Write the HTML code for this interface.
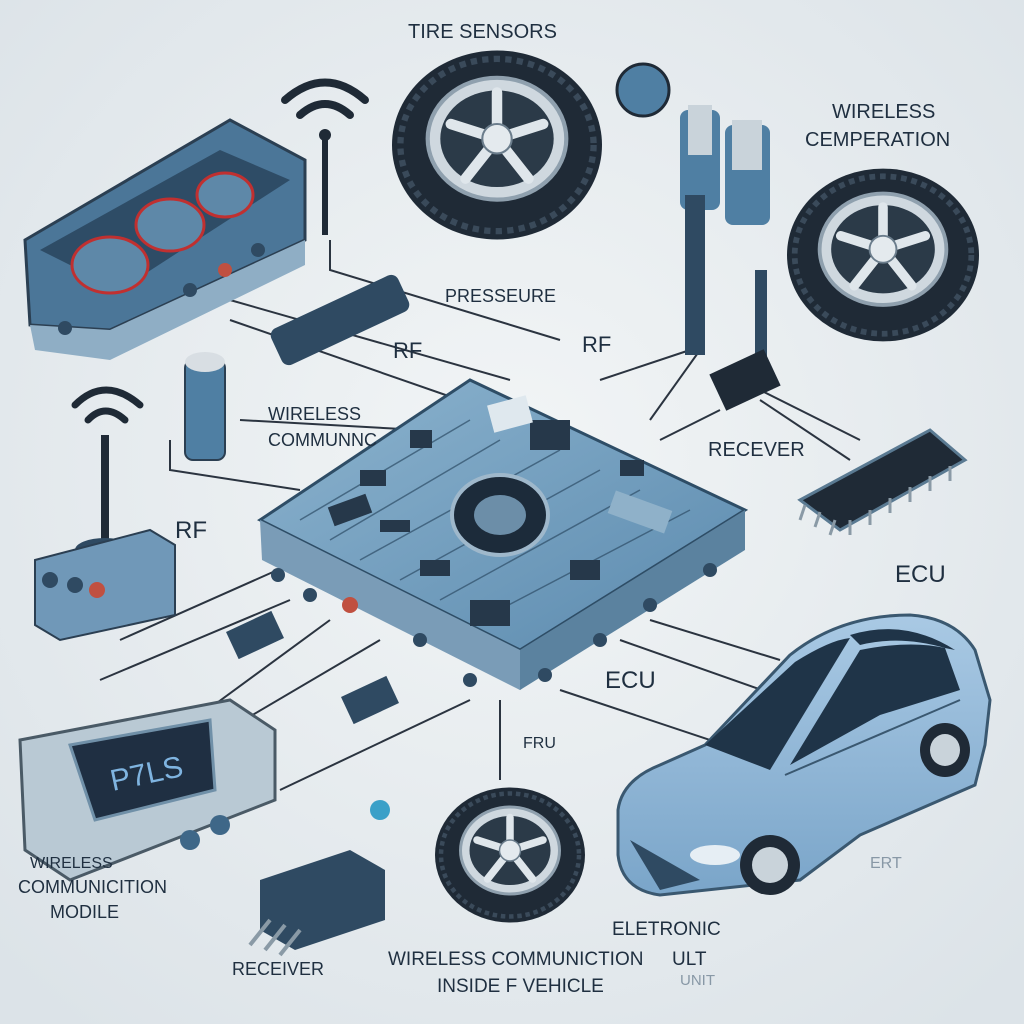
<!DOCTYPE html>
<html><head><meta charset="utf-8"><style>
html,body{margin:0;padding:0;width:1024px;height:1024px;overflow:hidden;background:#e8edf0;}
svg{display:block}
text{font-family:"Liberation Sans",sans-serif;fill:#1f2f40}
</style></head><body>
<svg width="1024" height="1024" viewBox="0 0 1024 1024" xmlns="http://www.w3.org/2000/svg">
<defs>
<radialGradient id="bg" cx="50%" cy="45%" r="70%"><stop offset="0" stop-color="#f2f5f6"/><stop offset="1" stop-color="#dce3e8"/></radialGradient>
<linearGradient id="board" x1="0" y1="0" x2="1" y2="1"><stop offset="0" stop-color="#8db4cf"/><stop offset="1" stop-color="#5b8aae"/></linearGradient>
<linearGradient id="car" x1="0" y1="0" x2="0" y2="1"><stop offset="0" stop-color="#a9c9e4"/><stop offset="1" stop-color="#7aa5c9"/></linearGradient>
<g id="tire">
<ellipse cx="0" cy="0" rx="100" ry="90" fill="#1f2a36"/>
<ellipse cx="0" cy="0" rx="92" ry="82" fill="none" stroke="#3a4a5a" stroke-width="6" stroke-dasharray="6 5"/>
<ellipse cx="0" cy="-6" rx="66" ry="58" fill="#cfd8df" stroke="#8fa0ae" stroke-width="4"/>
<ellipse cx="0" cy="-6" rx="54" ry="46" fill="#2b3a48"/>
<g stroke="#dfe6eb" stroke-width="10" stroke-linecap="round">
<line x1="0" y1="-6" x2="0" y2="-50"/><line x1="0" y1="-6" x2="44" y2="-20"/><line x1="0" y1="-6" x2="30" y2="32"/><line x1="0" y1="-6" x2="-30" y2="32"/><line x1="0" y1="-6" x2="-44" y2="-20"/>
</g>
<circle cx="0" cy="-6" r="14" fill="#e4eaee" stroke="#6b7d8c" stroke-width="2"/>
</g>
</defs>
<rect width="1024" height="1024" fill="url(#bg)"/>

<g stroke="#2b3440" stroke-width="2" fill="none">
<path d="M330 240 L330 270 L560 340"/><path d="M230 300 L510 380"/><path d="M230 320 L460 400"/>
<path d="M170 440 L170 470 L300 490"/><path d="M240 420 L420 430"/>
<path d="M690 350 L600 380"/><path d="M700 350 L650 420"/>
<path d="M760 390 L860 440"/><path d="M760 400 L850 460"/><path d="M720 410 L660 440"/>
<path d="M100 680 L290 600"/><path d="M180 730 L330 620"/><path d="M210 740 L380 640"/><path d="M280 790 L470 700"/>
<path d="M500 700 L500 780"/><path d="M560 690 L770 760"/><path d="M620 640 L790 700"/><path d="M650 620 L780 660"/>
<path d="M120 640 L300 560"/>
</g>

<!-- central board -->
<polygon points="260,520 470,380 745,510 520,690" fill="#3e6788"/>
<polygon points="260,520 470,380 745,510 520,650" fill="url(#board)" stroke="#2e4d66" stroke-width="3"/>
<polygon points="260,520 520,650 520,690 262,560" fill="#7a9cb7"/>
<polygon points="520,650 745,510 745,550 520,690" fill="#5b829f"/>
<g stroke="#2e4d66" stroke-width="1.5" fill="none" opacity="0.7">
<path d="M300 520 L470 420 M330 540 L500 440 M360 560 L560 450 M400 580 L600 470 M440 600 L640 490 M480 620 L690 510"/>
</g>
<ellipse cx="500" cy="515" rx="48" ry="40" fill="#1c2b3a" stroke="#9fb8cb" stroke-width="4"/>
<ellipse cx="500" cy="515" rx="26" ry="20" fill="#6c8ea8"/>
<g fill="#26384a">
<rect x="330" y="500" width="40" height="20" transform="rotate(-20 350 510)"/>
<rect x="610" y="500" width="60" height="24" transform="rotate(20 640 512)" fill="#8fb1c9"/>
<rect x="530" y="420" width="40" height="30"/><rect x="470" y="600" width="40" height="26"/>
<rect x="410" y="430" width="22" height="18"/><rect x="570" y="560" width="30" height="20"/>
<rect x="360" y="470" width="26" height="16"/><rect x="420" y="560" width="30" height="16"/>
<rect x="620" y="460" width="24" height="16"/><rect x="380" y="520" width="30" height="12"/>
</g>
<rect x="490" y="400" width="40" height="28" fill="#dfe8ee" transform="rotate(-15 510 414)"/>
<g fill="#2f4a62"><circle cx="278" cy="575" r="7"/><circle cx="310" cy="595" r="7"/><circle cx="350" cy="605" r="8" fill="#c05040"/><circle cx="420" cy="640" r="7"/><circle cx="470" cy="680" r="7"/><circle cx="545" cy="675" r="7"/><circle cx="600" cy="640" r="7"/><circle cx="650" cy="605" r="7"/><circle cx="710" cy="570" r="7"/></g>

<!-- dashboard -->
<polygon points="25,240 230,120 305,160 305,240 110,330 30,325" fill="#4b7698" stroke="#2b3f52" stroke-width="3"/>
<polygon points="40,250 220,150 290,180 120,290" fill="#2e4c66"/>
<ellipse cx="110" cy="265" rx="38" ry="28" fill="#5e88a8" stroke="#c03030" stroke-width="3"/>
<ellipse cx="170" cy="225" rx="34" ry="26" fill="#5e88a8" stroke="#c03030" stroke-width="3"/>
<ellipse cx="225" cy="195" rx="28" ry="22" fill="#5e88a8" stroke="#c03030" stroke-width="3"/>
<polygon points="30,325 110,330 305,240 305,265 110,360 35,350" fill="#8faec5"/>
<g fill="#2f4a62"><circle cx="190" cy="290" r="7"/><circle cx="225" cy="270" r="7" fill="#c05040"/><circle cx="258" cy="250" r="7"/><circle cx="65" cy="328" r="7"/></g>
<g fill="none" stroke="#1f2a36" stroke-width="8" stroke-linecap="round">
<path d="M285 100 Q325 65 365 100"/><path d="M300 115 Q325 93 350 115"/>
</g>
<circle cx="325" cy="135" r="6" fill="#1f2a36"/>
<line x1="325" y1="140" x2="325" y2="235" stroke="#1f2a36" stroke-width="6"/>

<use href="#tire" transform="translate(497,145) scale(1.05)"/>
<use href="#tire" transform="translate(883,255) scale(0.96)"/>
<use href="#tire" transform="translate(510,855) scale(0.75)"/>

<circle cx="643" cy="90" r="26" fill="#4f7fa3" stroke="#1f2a36" stroke-width="3"/>
<rect x="680" y="110" width="40" height="100" rx="8" fill="#4f7fa3"/><rect x="725" y="125" width="45" height="100" rx="8" fill="#4f7fa3"/>
<rect x="688" y="105" width="24" height="50" fill="#c9d3da"/><rect x="732" y="120" width="30" height="50" fill="#c9d3da"/>
<rect x="685" y="195" width="20" height="160" fill="#2f4a62"/>
<rect x="755" y="270" width="12" height="90" fill="#2f4a62"/>
<rect x="715" y="360" width="60" height="40" fill="#1f2a36" transform="rotate(-25 745 380)"/>

<rect x="185" y="360" width="40" height="100" rx="8" fill="#4f7fa3" stroke="#2b3f52" stroke-width="2"/>
<ellipse cx="205" cy="362" rx="20" ry="10" fill="#d8dee3"/>
<rect x="270" y="300" width="140" height="40" rx="8" fill="#2f4a62" transform="rotate(-25 340 320)"/>

<g fill="none" stroke="#1f2a36" stroke-width="7" stroke-linecap="round">
<path d="M75 405 Q105 375 140 405"/><path d="M88 420 Q105 402 125 420"/>
</g>
<line x1="105" y1="435" x2="105" y2="545" stroke="#1f2a36" stroke-width="8"/>
<ellipse cx="105" cy="550" rx="30" ry="12" fill="#2f4a62"/>
<polygon points="35,560 150,530 175,545 175,615 60,640 35,625" fill="#7098b8" stroke="#2b3f52" stroke-width="2"/>
<circle cx="50" cy="580" r="8" fill="#2f4a62"/><circle cx="75" cy="585" r="8" fill="#2f4a62"/><circle cx="97" cy="590" r="8" fill="#c05040"/>

<polygon points="800,500 930,430 965,460 840,530" fill="#1f2a36" stroke="#5a7a92" stroke-width="3"/>
<g stroke="#8a9aa6" stroke-width="3"><path d="M805 505 L800 520 M820 512 L815 527 M835 520 L830 535 M850 520 L850 535 M870 510 L870 525 M890 498 L890 513 M910 487 L910 502 M930 476 L930 491 M950 466 L950 481"/></g>

<polygon points="20,740 230,700 275,730 275,800 70,880 25,850" fill="#b9c9d4" stroke="#4a5a66" stroke-width="3"/>
<polygon points="70,745 210,720 215,790 95,820" fill="#1f2f42" stroke="#7090a8" stroke-width="3"/>
<text x="110" y="785" font-size="30" style="fill:#7fb4e0" transform="rotate(-12 140 775)">P7LS</text>
<circle cx="190" cy="840" r="10" fill="#3e6788"/><circle cx="220" cy="825" r="10" fill="#3e6788"/>

<polygon points="260,880 350,850 385,870 385,920 295,950 260,930" fill="#2f4a62"/>
<g stroke="#8a9aa6" stroke-width="4"><line x1="270" y1="920" x2="250" y2="945"/><line x1="285" y1="925" x2="265" y2="950"/><line x1="300" y1="930" x2="280" y2="955"/></g>

<rect x="230" y="620" width="50" height="30" fill="#2f4a62" transform="rotate(-25 255 635)"/>
<rect x="345" y="685" width="50" height="30" fill="#2f4a62" transform="rotate(-25 370 700)"/>
<circle cx="380" cy="810" r="10" fill="#3aa0c8"/>

<!-- car -->
<path d="M618 810 Q622 780 660 765 L705 745 L790 655 Q840 615 910 615 Q955 618 975 650 L990 700 L985 745 L975 785 L860 835 L800 880 L660 895 Q622 890 618 855 Z" fill="url(#car)" stroke="#3a5870" stroke-width="3"/>
<path d="M705 745 L795 662 Q830 640 850 638 L770 770 Z" fill="#1f3448"/>
<path d="M790 765 L860 650 Q910 640 945 648 L960 690 L880 715 Z" fill="#1f3448"/>
<path d="M850 635 Q905 618 955 650 L945 648 Q900 635 860 645 Z" fill="#1f3448"/>
<line x1="785" y1="775" x2="960" y2="700" stroke="#3a5870" stroke-width="2"/>
<ellipse cx="770" cy="865" rx="30" ry="30" fill="#1f2a36"/><ellipse cx="770" cy="865" rx="18" ry="18" fill="#c9d3da"/>
<ellipse cx="945" cy="750" rx="25" ry="27" fill="#1f2a36"/><ellipse cx="945" cy="750" rx="15" ry="16" fill="#c9d3da"/>
<ellipse cx="715" cy="855" rx="25" ry="10" fill="#e6eef4"/>
<path d="M630 840 L700 880 L660 890 Z" fill="#2f4a62"/>

<text x="408" y="38" font-size="20">TIRE SENSORS</text>
<text x="832" y="118" font-size="20">WIRELESS</text>
<text x="805" y="146" font-size="20">CEMPERATION</text>
<text x="445" y="302" font-size="18">PRESSEURE</text>
<text x="393" y="358" font-size="22">RF</text>
<text x="582" y="352" font-size="22">RF</text>
<text x="268" y="420" font-size="18">WIRELESS</text>
<text x="268" y="446" font-size="18">COMMUNNC</text>
<text x="708" y="456" font-size="20">RECEVER</text>
<text x="175" y="538" font-size="24">RF</text>
<text x="895" y="582" font-size="24">ECU</text>
<text x="605" y="688" font-size="24">ECU</text>
<text x="523" y="748" font-size="16">FRU</text>
<text x="30" y="868" font-size="16">WIRELESS</text>
<text x="18" y="893" font-size="18">COMMUNICITION</text>
<text x="50" y="918" font-size="18">MODILE</text>
<text x="232" y="975" font-size="18">RECEIVER</text>
<text x="388" y="965" font-size="19">WIRELESS COMMUNICTION</text>
<text x="437" y="992" font-size="19">INSIDE  F VEHICLE</text>
<text x="612" y="935" font-size="19">ELETRONIC</text>
<text x="672" y="965" font-size="19">ULT</text>
<text x="680" y="985" font-size="15" style="fill:#8898a6">UNIT</text>
<text x="870" y="868" font-size="16" style="fill:#8898a6">ERT</text>
</svg>
</body></html>
